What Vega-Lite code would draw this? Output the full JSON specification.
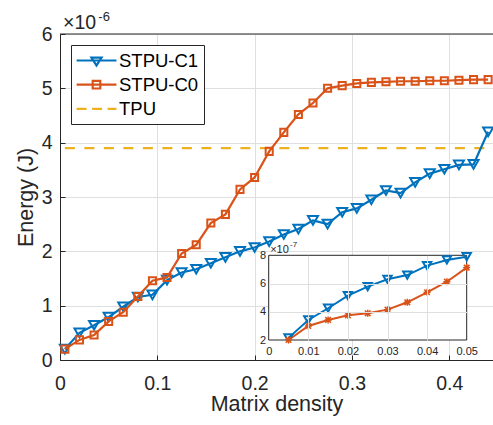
{
  "$schema": "https://vega.github.io/schema/vega-lite/v6.json",
  "width": 433,
  "height": 326,
  "autosize": {"type": "none"},
  "padding": {"left": 60, "top": 34, "right": 0, "bottom": 65},
  "background": "white",
  "config": {
    "font": "Liberation Sans",
    "view": {"stroke": null},
    "axis": {
      "domainColor": "#262626",
      "domainWidth": 1,
      "tickColor": "#262626",
      "tickWidth": 1,
      "labelColor": "#262626",
      "titleColor": "#262626",
      "gridColor": "#dfdfdf",
      "gridWidth": 1,
      "labelFont": "Liberation Sans",
      "titleFont": "Liberation Sans",
      "titleFontWeight": "normal",
      "labelFlush": false,
      "labelOverlap": false
    }
  },
  "datasets": {
    "main": [
      {"x": 0.005, "y": 0.2, "series": "STPU-C1"},
      {"x": 0.02, "y": 0.5, "series": "STPU-C1"},
      {"x": 0.035, "y": 0.64, "series": "STPU-C1"},
      {"x": 0.05, "y": 0.79, "series": "STPU-C1"},
      {"x": 0.065, "y": 0.98, "series": "STPU-C1"},
      {"x": 0.08, "y": 1.16, "series": "STPU-C1"},
      {"x": 0.095, "y": 1.2, "series": "STPU-C1"},
      {"x": 0.11, "y": 1.47, "series": "STPU-C1"},
      {"x": 0.125, "y": 1.61, "series": "STPU-C1"},
      {"x": 0.14, "y": 1.67, "series": "STPU-C1"},
      {"x": 0.155, "y": 1.78, "series": "STPU-C1"},
      {"x": 0.17, "y": 1.89, "series": "STPU-C1"},
      {"x": 0.185, "y": 2.0, "series": "STPU-C1"},
      {"x": 0.2, "y": 2.07, "series": "STPU-C1"},
      {"x": 0.215, "y": 2.18, "series": "STPU-C1"},
      {"x": 0.23, "y": 2.31, "series": "STPU-C1"},
      {"x": 0.245, "y": 2.41, "series": "STPU-C1"},
      {"x": 0.26, "y": 2.57, "series": "STPU-C1"},
      {"x": 0.275, "y": 2.5, "series": "STPU-C1"},
      {"x": 0.29, "y": 2.72, "series": "STPU-C1"},
      {"x": 0.305, "y": 2.79, "series": "STPU-C1"},
      {"x": 0.32, "y": 2.95, "series": "STPU-C1"},
      {"x": 0.335, "y": 3.12, "series": "STPU-C1"},
      {"x": 0.35, "y": 3.07, "series": "STPU-C1"},
      {"x": 0.365, "y": 3.27, "series": "STPU-C1"},
      {"x": 0.38, "y": 3.43, "series": "STPU-C1"},
      {"x": 0.395, "y": 3.51, "series": "STPU-C1"},
      {"x": 0.41, "y": 3.59, "series": "STPU-C1"},
      {"x": 0.425, "y": 3.6, "series": "STPU-C1"},
      {"x": 0.44, "y": 4.2, "series": "STPU-C1"},
      {"x": 0.005, "y": 0.2, "series": "STPU-C0"},
      {"x": 0.02, "y": 0.37, "series": "STPU-C0"},
      {"x": 0.035, "y": 0.46, "series": "STPU-C0"},
      {"x": 0.05, "y": 0.71, "series": "STPU-C0"},
      {"x": 0.065, "y": 0.88, "series": "STPU-C0"},
      {"x": 0.08, "y": 1.17, "series": "STPU-C0"},
      {"x": 0.095, "y": 1.46, "series": "STPU-C0"},
      {"x": 0.11, "y": 1.52, "series": "STPU-C0"},
      {"x": 0.125, "y": 1.96, "series": "STPU-C0"},
      {"x": 0.14, "y": 2.12, "series": "STPU-C0"},
      {"x": 0.155, "y": 2.52, "series": "STPU-C0"},
      {"x": 0.17, "y": 2.68, "series": "STPU-C0"},
      {"x": 0.185, "y": 3.14, "series": "STPU-C0"},
      {"x": 0.2, "y": 3.36, "series": "STPU-C0"},
      {"x": 0.215, "y": 3.84, "series": "STPU-C0"},
      {"x": 0.23, "y": 4.19, "series": "STPU-C0"},
      {"x": 0.245, "y": 4.52, "series": "STPU-C0"},
      {"x": 0.26, "y": 4.73, "series": "STPU-C0"},
      {"x": 0.275, "y": 5.0, "series": "STPU-C0"},
      {"x": 0.29, "y": 5.05, "series": "STPU-C0"},
      {"x": 0.305, "y": 5.09, "series": "STPU-C0"},
      {"x": 0.32, "y": 5.11, "series": "STPU-C0"},
      {"x": 0.335, "y": 5.12, "series": "STPU-C0"},
      {"x": 0.35, "y": 5.13, "series": "STPU-C0"},
      {"x": 0.365, "y": 5.13, "series": "STPU-C0"},
      {"x": 0.38, "y": 5.14, "series": "STPU-C0"},
      {"x": 0.395, "y": 5.14, "series": "STPU-C0"},
      {"x": 0.41, "y": 5.15, "series": "STPU-C0"},
      {"x": 0.425, "y": 5.16, "series": "STPU-C0"},
      {"x": 0.44, "y": 5.16, "series": "STPU-C0"}
    ],
    "tpu": [
      {"x": 0.005, "y": 3.9, "series": "TPU"},
      {"x": 0.44, "y": 3.9, "series": "TPU"}
    ],
    "inset": [
      {"x": 0.005, "y": 2.15, "series": "STPU-C1"},
      {"x": 0.01, "y": 3.42, "series": "STPU-C1"},
      {"x": 0.015, "y": 4.25, "series": "STPU-C1"},
      {"x": 0.02, "y": 5.14, "series": "STPU-C1"},
      {"x": 0.025, "y": 5.78, "series": "STPU-C1"},
      {"x": 0.03, "y": 6.3, "series": "STPU-C1"},
      {"x": 0.035, "y": 6.6, "series": "STPU-C1"},
      {"x": 0.04, "y": 7.27, "series": "STPU-C1"},
      {"x": 0.045, "y": 7.67, "series": "STPU-C1"},
      {"x": 0.05, "y": 7.9, "series": "STPU-C1"},
      {"x": 0.005, "y": 2.0, "series": "STPU-C0"},
      {"x": 0.01, "y": 2.99, "series": "STPU-C0"},
      {"x": 0.015, "y": 3.42, "series": "STPU-C0"},
      {"x": 0.02, "y": 3.75, "series": "STPU-C0"},
      {"x": 0.025, "y": 3.89, "series": "STPU-C0"},
      {"x": 0.03, "y": 4.15, "series": "STPU-C0"},
      {"x": 0.035, "y": 4.67, "series": "STPU-C0"},
      {"x": 0.04, "y": 5.38, "series": "STPU-C0"},
      {"x": 0.045, "y": 6.13, "series": "STPU-C0"},
      {"x": 0.05, "y": 7.13, "series": "STPU-C0"}
    ]
  },
  "layer": [
    {
      "layer": [
        {
          "data": {"name": "tpu"},
          "mark": {"type": "line", "strokeWidth": 2.2, "strokeDash": [10, 9.5]},
          "encoding": {
            "x": {
              "field": "x", "type": "quantitative",
              "scale": {"domain": [0, 0.445], "nice": false, "zero": false},
              "axis": {
                "values": [0, 0.1, 0.2, 0.3, 0.4], "format": "~g",
                "title": "Matrix density", "titleFontSize": 21.5, "titlePadding": 1,
                "labelFontSize": 19.5, "tickSize": -5, "labelPadding": 19, "grid": true
              }
            },
            "y": {
              "field": "y", "type": "quantitative",
              "scale": {"domain": [0, 6], "nice": false, "zero": false},
              "axis": {
                "values": [0, 1, 2, 3, 4, 5, 6], "format": "d",
                "title": "Energy (J)", "titleFontSize": 21.5, "titlePadding": 4,
                "labelFontSize": 19.5, "tickSize": -5, "labelPadding": 13, "grid": true
              }
            },
            "stroke": {
              "field": "series", "type": "nominal",
              "scale": {"domain": ["STPU-C1", "STPU-C0", "TPU"], "range": ["#0072BD", "#D95319", "#EDB120"]},
              "legend": {
                "title": null, "orient": "top-left", "offset": 10.5, "padding": 5,
                "strokeColor": "#262626", "fillColor": "white",
                "labelFont": "Liberation Sans", "labelFontSize": 18.5, "labelColor": "#000000",
                "symbolSize": 324, "symbolStrokeWidth": 2.2, "symbolOffset": 0,
                "labelOffset": 22, "rowPadding": 4.2,
                "encode": {
                  "symbols": {
                    "update": {
                      "shape": {"signal": "datum.value === 'STPU-C1' ? 'M-1.1,0H3.33M0.55,-0.32H1.67L1.11,0.56Z' : datum.value === 'STPU-C0' ? 'M-1.1,0H3.33M0.69,-0.42H1.53V0.42H0.69Z' : 'M-1.1,0H3.33'"},
                      "strokeDash": {"signal": "datum.value === 'TPU' ? [10, 5.5] : [1, 0]"},
                      "fill": {"value": "transparent"}
                    }
                  }
                }
              }
            }
          }
        },
        {
          "data": {"name": "main"},
          "transform": [{"filter": "datum.series === 'STPU-C1'"}],
          "mark": {"type": "line", "strokeWidth": 2.2},
          "encoding": {
            "x": {"field": "x", "type": "quantitative"},
            "y": {"field": "y", "type": "quantitative"},
            "stroke": {"field": "series", "type": "nominal"}
          }
        },
        {
          "data": {"name": "main"},
          "transform": [{"filter": "datum.series === 'STPU-C1'"}],
          "mark": {"type": "point", "shape": "triangle-down", "size": 100, "filled": false, "strokeWidth": 2, "opacity": 1},
          "encoding": {
            "x": {"field": "x", "type": "quantitative"},
            "y": {"field": "y", "type": "quantitative"},
            "stroke": {"field": "series", "type": "nominal"}
          }
        },
        {
          "data": {"name": "main"},
          "transform": [{"filter": "datum.series === 'STPU-C0'"}],
          "mark": {"type": "line", "strokeWidth": 2.2},
          "encoding": {
            "x": {"field": "x", "type": "quantitative"},
            "y": {"field": "y", "type": "quantitative"},
            "stroke": {"field": "series", "type": "nominal"}
          }
        },
        {
          "data": {"name": "main"},
          "transform": [{"filter": "datum.series === 'STPU-C0'"}],
          "mark": {"type": "point", "shape": "square", "size": 50, "filled": false, "strokeWidth": 2, "opacity": 1},
          "encoding": {
            "x": {"field": "x", "type": "quantitative"},
            "y": {"field": "y", "type": "quantitative"},
            "stroke": {"field": "series", "type": "nominal"}
          }
        },
        {
          "data": {"values": [{}]},
          "mark": {"type": "rule", "color": "#262626", "strokeWidth": 1},
          "encoding": {"y": {"datum": 6, "type": "quantitative"}}
        },
        {
          "data": {"values": [{}]},
          "mark": {"type": "text", "text": "×10", "align": "left", "baseline": "alphabetic", "dx": 3, "dy": -4.7, "fontSize": 19.5, "color": "#262626"},
          "encoding": {"x": {"datum": 0, "type": "quantitative"}, "y": {"datum": 6, "type": "quantitative"}}
        },
        {
          "data": {"values": [{}]},
          "mark": {"type": "text", "text": "-6", "align": "left", "baseline": "alphabetic", "dx": 38.3, "dy": -13.3, "fontSize": 13, "color": "#262626"},
          "encoding": {"x": {"datum": 0, "type": "quantitative"}, "y": {"datum": 6, "type": "quantitative"}}
        }
      ]
    },
    {
      "layer": [
        {
          "data": {"values": [{}]},
          "mark": {"type": "rect", "fill": "white", "stroke": "#262626", "strokeWidth": 1},
          "encoding": {
            "x": {
              "datum": 0, "type": "quantitative",
              "scale": {"domain": [0, 0.05], "range": [208.7, 406.7], "nice": false, "zero": false},
              "axis": {
                "orient": "bottom", "offset": -20, "values": [0, 0.01, 0.02, 0.03, 0.04, 0.05], "format": "~g",
                "title": null, "labelFontSize": 11, "domain": false, "grid": false,
                "tickSize": -84.7, "tickColor": "#dfdfdf",
                "tickOpacity": {"condition": {"test": "datum.value <= 0 || datum.value >= 0.05", "value": 0}, "value": 1},
                "labelPadding": 89.7, "zindex": 1
              }
            },
            "x2": {"datum": 0.05},
            "y": {
              "datum": 2, "type": "quantitative",
              "scale": {"domain": [2, 8], "range": [306, 221.3], "nice": false, "zero": false},
              "axis": {
                "orient": "left", "offset": -208.7, "values": [2, 4, 6, 8], "format": "d",
                "title": null, "labelFontSize": 11, "domain": false, "grid": false,
                "tickSize": -198, "tickColor": "#dfdfdf",
                "tickOpacity": {"condition": {"test": "datum.value <= 2 || datum.value >= 8", "value": 0}, "value": 1},
                "labelPadding": 201, "zindex": 1
              }
            },
            "y2": {"datum": 8}
          }
        },
        {
          "data": {"name": "inset"},
          "mark": {"type": "line", "strokeWidth": 2},
          "encoding": {
            "x": {"field": "x", "type": "quantitative"},
            "y": {"field": "y", "type": "quantitative"},
            "stroke": {"field": "series", "type": "nominal"}
          }
        },
        {
          "data": {"name": "inset"},
          "transform": [{"filter": "datum.series === 'STPU-C1'"}],
          "mark": {"type": "point", "shape": "triangle-down", "size": 70, "filled": false, "strokeWidth": 2, "opacity": 1},
          "encoding": {
            "x": {"field": "x", "type": "quantitative"},
            "y": {"field": "y", "type": "quantitative"},
            "stroke": {"field": "series", "type": "nominal"}
          }
        },
        {
          "data": {"name": "inset"},
          "transform": [{"filter": "datum.series === 'STPU-C0'"}],
          "mark": {"type": "point", "shape": "M-0.8,-0.8L0.8,0.8M-0.8,0.8L0.8,-0.8M0,-1L0,1M-1,0L1,0", "size": 49, "filled": false, "strokeWidth": 1.5, "opacity": 1},
          "encoding": {
            "x": {"field": "x", "type": "quantitative"},
            "y": {"field": "y", "type": "quantitative"},
            "stroke": {"field": "series", "type": "nominal"}
          }
        },
        {
          "data": {"values": [{}]},
          "mark": {"type": "text", "text": "×10", "align": "left", "baseline": "alphabetic", "dx": 1.5, "dy": -2.6, "fontSize": 11, "color": "#262626"},
          "encoding": {"x": {"datum": 0, "type": "quantitative"}, "y": {"datum": 8, "type": "quantitative"}}
        },
        {
          "data": {"values": [{}]},
          "mark": {"type": "text", "text": "-7", "align": "left", "baseline": "alphabetic", "dx": 21.3, "dy": -8.3, "fontSize": 8, "color": "#262626"},
          "encoding": {"x": {"datum": 0, "type": "quantitative"}, "y": {"datum": 8, "type": "quantitative"}}
        }
      ]
    }
  ],
  "resolve": {"scale": {"x": "independent", "y": "independent"}}
}
